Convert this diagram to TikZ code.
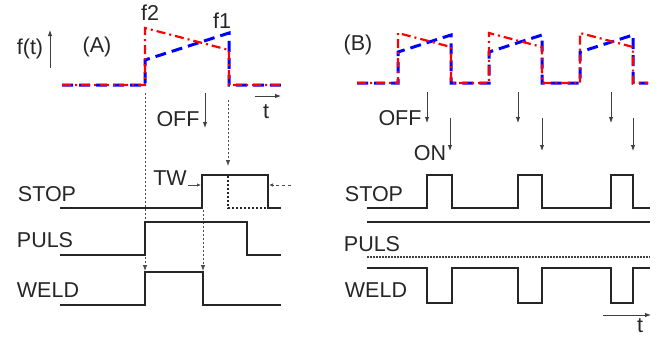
\documentclass[tikz,border=0pt]{standalone}
\usepackage{fontspec}
\setmainfont{Liberation Sans}
\usetikzlibrary{arrows.meta}
\begin{document}
\begin{tikzpicture}[x=1pt,y=-1pt,
  lbl/.style={inner sep=0pt,font=\fontsize{21.5}{24}\selectfont,text=black!85},
  sig/.style={line width=2pt,draw=black!85,line join=miter},
  thinarrow/.style={line width=0.9pt,draw=black!75,-{Latex[length=6pt,width=4.5pt]}},
  dotarrow/.style={line width=0.8pt,draw=black!70,dash pattern=on 2pt off 2pt,-{Latex[length=6pt,width=4.5pt]}},
  bluew/.style={line width=3pt,draw=blue,dash pattern=on 11pt off 6pt},
  redw/.style={line width=2.2pt,draw=red,dash pattern=on 9pt off 4pt on 2pt off 4pt},
  thickdot/.style={line width=2pt,draw=black!85,dash pattern=on 2pt off 2pt}]
\useasboundingbox (0,0) rectangle (659,338);
\fill[white] (0,0) rectangle (659,338);

% ---------- panel A : f(t)
\node[lbl] (ft) at (30,49) {f(t)};
\coordinate (fa0) at (50,68); \coordinate (fa1) at (50,30);
\draw[thinarrow] (fa0) -- (fa1);
\node[lbl] (A) at (97,47) {(A)};
\node[lbl] (f2) at (150,13) {f2};
\node[lbl] (f1) at (222,21) {f1};
\draw[bluew] (62,85) -- (145,85) -- (145,60) -- (229,33) -- (229,85) -- (282,85);
\draw[redw] (62,85) -- (145,85) -- (145,28) -- (229,50) -- (229,85) -- (282,85);
\coordinate (ta0) at (255,96); \coordinate (ta1) at (281,96);
\draw[thinarrow] (ta0) -- (ta1);
\node[lbl] (tA) at (266,112) {t};
\node[lbl] (offA) at (178,119) {OFF};
\coordinate (oa0) at (205,93); \coordinate (oa1) at (205,128);
\draw[thinarrow] (oa0) -- (oa1);

% dotted guide lines
\coordinate (g1a) at (145,93); \coordinate (g1b) at (145,271);
\coordinate (g2a) at (203,210); \coordinate (g2b) at (203,271);
\coordinate (g3a) at (228,100); \coordinate (g3b) at (228,166);
\draw[dotarrow] (g1a) -- (g1b);
\draw[dotarrow] (g2a) -- (g2b);
\draw[dotarrow] (g3a) -- (g3b);

% signals A
\node[lbl] (stopA) at (47,194) {STOP};
\node[lbl] (pulsA) at (45,240) {PULS};
\node[lbl] (weldA) at (48,290) {WELD};
\draw[sig] (60,208) -- (202,208) -- (202,175) -- (268,175) -- (268,208) -- (281,208);
\draw[thickdot] (228,176) -- (228,208) -- (266,208);
\draw[sig] (60,255) -- (145,255) -- (145,222) -- (247,222) -- (247,255) -- (281,255);
\draw[sig] (60,305) -- (145,305) -- (145,272) -- (203,272) -- (203,305) -- (281,305);
\node[lbl] (TW) at (170,178) {TW};
\coordinate (tw0) at (188,185); \coordinate (tw1) at (201,185);
\draw[line width=0.8pt,draw=black!70,-{Latex[length=4pt,width=3.5pt]}] (tw0) -- (tw1);
\coordinate (rd0) at (291,185); \coordinate (rd1) at (269,185);
\draw[line width=0.8pt,draw=black!70,dash pattern=on 3pt off 3pt,-{Latex[length=4pt,width=3.5pt]}] (rd0) -- (rd1);

% ---------- panel B
\node[lbl] (B) at (358,45) {(B)};
\draw[bluew] (357,83) -- (398,83) -- (398,52) -- (451,35) -- (451,83)
  -- (489,83) -- (489,52) -- (542,35) -- (542,83)
  -- (580,83) -- (580,52) -- (633,35) -- (633,83) -- (648,83);
\draw[redw] (357,83) -- (398,83) -- (398,33) -- (451,47) -- (451,83)
  -- (489,83) -- (489,33) -- (542,47) -- (542,83)
  -- (580,83) -- (580,33) -- (633,47) -- (633,83) -- (648,83);
\node[lbl] (offB) at (400,118) {OFF};
\node[lbl] (onB) at (430,153) {ON};
\foreach \x/\n in {427/a,518/b,611/c}{
  \coordinate (off\n0) at (\x,92); \coordinate (off\n1) at (\x,123);
  \draw[thinarrow] (off\n0) -- (off\n1);}
\foreach \x/\n in {450/a,542/b,633/c}{
  \coordinate (on\n0) at (\x,118); \coordinate (on\n1) at (\x,151);
  \draw[thinarrow] (on\n0) -- (on\n1);}

\node[lbl] (stopB) at (374,194) {STOP};
\node[lbl] (pulsB) at (372,244) {PULS};
\node[lbl] (weldB) at (376,290) {WELD};
\draw[sig] (367,208) -- (427,208) -- (427,175) -- (452,175) -- (452,208)
  -- (518,208) -- (518,175) -- (542,175) -- (542,208)
  -- (611,208) -- (611,175) -- (633,175) -- (633,208) -- (650,208);
\draw[sig] (367,222) -- (650,222);
\draw[line width=1.6pt,draw=black!75,dash pattern=on 1.5pt off 1.5pt] (367,257) -- (650,257);
\draw[sig] (367,268) -- (427,268) -- (427,303) -- (452,303) -- (452,268)
  -- (518,268) -- (518,303) -- (542,303) -- (542,268)
  -- (611,268) -- (611,303) -- (633,303) -- (633,268) -- (650,268);
\coordinate (tb0) at (603,315); \coordinate (tb1) at (651,315);
\draw[thinarrow] (tb0) -- (tb1);
\node[lbl] (tB) at (640,326) {t};
\end{tikzpicture}
\end{document}
